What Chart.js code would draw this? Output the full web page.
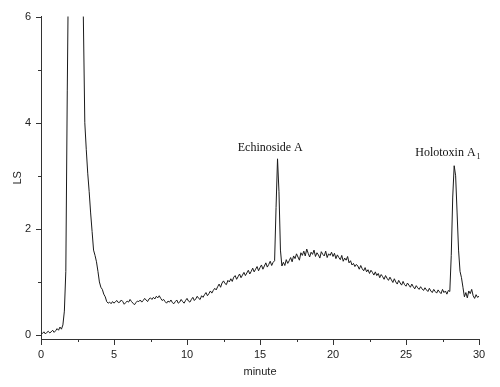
<!DOCTYPE html>
<html>
<head>
<meta charset="utf-8">
<script src="https://cdn.jsdelivr.net/npm/chart.js@4"></script>
<style>
  body { margin: 0; background: #fff; }
  #wrap { width: 500px; height: 387px; }
</style>
</head>
<body>
<div id="wrap"><canvas id="lsChart"></canvas></div>
<script>
// temps de rétention (minute)
let minutes = [
  0.0,0.1,0.2,0.3,0.4,0.5,0.6,0.7,0.8,0.9,
  1.0,1.1,1.2,1.3,1.4,1.5,1.6,1.7,1.8,1.9,
  2.0,2.1,2.2,2.3,2.4,2.5,2.6,2.7,2.8,2.9,
  3.0,3.1,3.2,3.3,3.4,3.5,3.6,3.7,3.8,3.9,
  4.0,4.1,4.2,4.3,4.4,4.5,4.6,4.7,4.8,4.9,
  5.0,5.1,5.2,5.3,5.4,5.5,5.6,5.7,5.8,5.9,
  6.0,6.1,6.2,6.3,6.4,6.5,6.6,6.7,6.8,6.9,
  7.0,7.1,7.2,7.3,7.4,7.5,7.6,7.7,7.8,7.9,
  8.0,8.1,8.2,8.3,8.4,8.5,8.6,8.7,8.8,8.9,
  9.0,9.1,9.2,9.3,9.4,9.5,9.6,9.7,9.8,9.9,
  10.0,10.1,10.2,10.3,10.4,10.5,10.6,10.7,10.8,10.9,
  11.0,11.1,11.2,11.3,11.4,11.5,11.6,11.7,11.8,11.9,
  12.0,12.1,12.2,12.3,12.4,12.5,12.6,12.7,12.8,12.9,
  13.0,13.1,13.2,13.3,13.4,13.5,13.6,13.7,13.8,13.9,
  14.0,14.1,14.2,14.3,14.4,14.5,14.6,14.7,14.8,14.9,
  15.0,15.1,15.2,15.3,15.4,15.5,15.6,15.7,15.8,15.9,
  16.0,16.1,16.2,16.3,16.4,16.5,16.6,16.7,16.8,16.9,
  17.0,17.1,17.2,17.3,17.4,17.5,17.6,17.7,17.8,17.9,
  18.0,18.1,18.2,18.3,18.4,18.5,18.6,18.7,18.8,18.9,
  19.0,19.1,19.2,19.3,19.4,19.5,19.6,19.7,19.8,19.9,
  20.0,20.1,20.2,20.3,20.4,20.5,20.6,20.7,20.8,20.9,
  21.0,21.1,21.2,21.3,21.4,21.5,21.6,21.7,21.8,21.9,
  22.0,22.1,22.2,22.3,22.4,22.5,22.6,22.7,22.8,22.9,
  23.0,23.1,23.2,23.3,23.4,23.5,23.6,23.7,23.8,23.9,
  24.0,24.1,24.2,24.3,24.4,24.5,24.6,24.7,24.8,24.9,
  25.0,25.1,25.2,25.3,25.4,25.5,25.6,25.7,25.8,25.9,
  26.0,26.1,26.2,26.3,26.4,26.5,26.6,26.7,26.8,26.9,
  27.0,27.1,27.2,27.3,27.4,27.5,27.6,27.7,27.8,27.9,
  28.0,28.1,28.2,28.3,28.4,28.5,28.6,28.7,28.8,28.9,
  29.0,29.1,29.2,29.3,29.4,29.5,29.6,29.7,29.8,29.9,
  30.0
];

// signal LS (le grand pic du début dépasse 6, il est coupé)
let signal = [
  0.04,0.03,0.06,0.02,0.05,0.07,0.04,0.06,0.09,0.05,
  0.08,0.12,0.09,0.15,0.11,0.19,0.45,1.20,4.60,7.50,
  10.0,12.0,13.0,13.0,12.5,11.0,9.5,8.0,6.8,6.0,
  4.00,3.50,3.05,2.70,2.30,1.95,1.60,1.50,1.38,1.20,
  1.00,0.90,0.86,0.77,0.72,0.63,0.60,0.62,0.59,0.63,
  0.60,0.63,0.65,0.61,0.62,0.66,0.63,0.58,0.61,0.64,
  0.62,0.67,0.63,0.60,0.57,0.61,0.64,0.63,0.66,0.62,
  0.65,0.69,0.66,0.63,0.68,0.70,0.67,0.71,0.68,0.73,
  0.70,0.74,0.69,0.65,0.67,0.63,0.60,0.64,0.62,0.66,
  0.61,0.59,0.63,0.66,0.60,0.62,0.67,0.63,0.60,0.65,
  0.69,0.64,0.62,0.67,0.71,0.65,0.68,0.73,0.69,0.67,
  0.74,0.71,0.76,0.80,0.74,0.78,0.83,0.79,0.84,0.88,
  0.85,0.91,0.96,0.90,0.98,1.02,0.97,0.95,1.03,1.00,
  1.06,1.01,1.09,1.12,1.05,1.10,1.15,1.08,1.13,1.18,
  1.12,1.17,1.22,1.15,1.20,1.26,1.19,1.24,1.29,1.21,
  1.27,1.32,1.24,1.30,1.36,1.28,1.33,1.39,1.31,1.37,
  1.40,2.40,3.32,2.70,1.60,1.30,1.37,1.31,1.42,1.35,
  1.40,1.46,1.38,1.49,1.44,1.53,1.47,1.41,1.55,1.50,
  1.58,1.49,1.62,1.54,1.47,1.56,1.52,1.60,1.48,1.55,
  1.51,1.45,1.57,1.52,1.49,1.58,1.46,1.53,1.50,1.56,
  1.48,1.54,1.44,1.51,1.46,1.42,1.50,1.39,1.45,1.41,
  1.48,1.36,1.40,1.32,1.35,1.29,1.33,1.30,1.24,1.31,
  1.25,1.21,1.27,1.19,1.23,1.16,1.22,1.18,1.13,1.19,
  1.12,1.16,1.08,1.14,1.10,1.05,1.12,1.07,1.03,1.09,
  1.04,0.99,1.06,1.00,0.96,1.03,0.98,0.94,1.01,0.95,
  0.92,0.98,0.94,0.90,0.96,0.91,0.87,0.93,0.89,0.86,
  0.91,0.87,0.84,0.89,0.85,0.82,0.88,0.83,0.80,0.86,
  0.82,0.79,0.85,0.81,0.78,0.86,0.80,0.83,0.77,0.84,
  0.82,1.50,2.60,3.19,3.00,2.30,1.60,1.20,1.08,0.90,
  0.72,0.80,0.70,0.83,0.78,0.86,0.74,0.69,0.76,0.71,
  0.73
];

let xMajor = [0, 5, 10, 15, 20, 25, 30];
let xMinor = [2.5, 7.5, 12.5, 17.5, 22.5, 27.5];
let yMajor = [0, 2, 4, 6];
let yMinor = [1, 3, 5];

// étiquettes des pics : texte, indice, position (minute, LS)
let peakNames = ['Echinoside A', 'Holotoxin A'];
let peakSubs = ['', '1'];
let peakX = [15.7, 27.7];
let peakY = [3.53, 3.43];

const axisColor = '#333';
const sansFont = "'Liberation Sans', Arial, sans-serif";
const serifFont = "'Liberation Serif', 'Times New Roman', serif";

// dessine les graduations (majeures et mineures) vers l'extérieur
const tickPlugin = {
  id: 'ticksOut',
  afterDraw(chart) {
    let ctx = chart.ctx;
    let xs = chart.scales.x, ys = chart.scales.y;
    let area = chart.chartArea;
    ctx.save();
    ctx.strokeStyle = axisColor;
    ctx.lineWidth = 1;
    ctx.beginPath();
    xMajor.forEach(v => {
      let px = Math.round(xs.getPixelForValue(v)) + 0.5;
      ctx.moveTo(px, area.bottom); ctx.lineTo(px, area.bottom + 6);
    });
    xMinor.forEach(v => {
      let px = Math.round(xs.getPixelForValue(v)) + 0.5;
      ctx.moveTo(px, area.bottom); ctx.lineTo(px, area.bottom + 3);
    });
    yMajor.forEach(v => {
      let py = Math.round(ys.getPixelForValue(v)) + 0.5;
      ctx.moveTo(area.left, py); ctx.lineTo(area.left - 5, py);
    });
    yMinor.forEach(v => {
      let py = Math.round(ys.getPixelForValue(v)) + 0.5;
      ctx.moveTo(area.left, py); ctx.lineTo(area.left - 3, py);
    });
    ctx.stroke();
    ctx.restore();
  }
};

// noms des pics
const peakLabelPlugin = {
  id: 'peakLabels',
  afterDraw(chart) {
    let ctx = chart.ctx;
    let xs = chart.scales.x, ys = chart.scales.y;
    ctx.save();
    ctx.fillStyle = '#111';
    ctx.textBaseline = 'middle';
    peakNames.forEach((name, i) => {
      let px = xs.getPixelForValue(peakX[i]);
      let py = ys.getPixelForValue(peakY[i]);
      ctx.font = '12px ' + serifFont;
      ctx.textAlign = 'center';
      ctx.fillText(name, px, py);
      if (peakSubs[i]) {
        let w = ctx.measureText(name).width;
        ctx.font = '8px ' + serifFont;
        ctx.textAlign = 'left';
        ctx.fillText(peakSubs[i], px + w / 2 + 1, py + 4);
      }
    });
    ctx.restore();
  }
};

let points = minutes.map((m, i) => ({ x: m, y: signal[i] }));

let ctx = document.getElementById('lsChart').getContext('2d');
let chart = new Chart(ctx, {
  type: 'line',
  data: {
    datasets: [{
      label: 'LS',
      data: points,
      borderColor: '#1a1a1a',
      borderWidth: 1,
      pointRadius: 0,
      tension: 0,
      fill: false
    }]
  },
  options: {
    responsive: true,
    maintainAspectRatio: false,
    animation: false,
    layout: { padding: { left: 0, top: 15, right: 21, bottom: 0 } },
    plugins: {
      legend: { display: false },
      tooltip: { enabled: false }
    },
    scales: {
      x: {
        type: 'linear',
        min: 0,
        max: 30,
        afterBuildTicks: scale => { scale.ticks = xMajor.map(v => ({ value: v })); },
        afterFit: scale => { scale.height = 48; },
        grid: { display: false, drawTicks: false },
        border: { display: true, color: axisColor, width: 1 },
        ticks: {
          padding: 9,
          color: '#222',
          font: { family: sansFont, size: 11 }
        },
        title: {
          display: true,
          text: 'minute',
          color: '#222',
          font: { family: sansFont, size: 11 },
          padding: { top: 0, bottom: 8 }
        }
      },
      y: {
        type: 'linear',
        min: -0.075,
        max: 6,
        afterBuildTicks: scale => { scale.ticks = yMajor.map(v => ({ value: v })); },
        afterFit: scale => { scale.width = 41; },
        grid: { display: false, drawTicks: false },
        border: { display: true, color: axisColor, width: 1 },
        ticks: {
          padding: 10,
          color: '#222',
          font: { family: sansFont, size: 11 }
        },
        title: {
          display: true,
          text: 'LS',
          color: '#222',
          font: { family: sansFont, size: 11 },
          padding: { top: 11, bottom: 0 }
        }
      }
    }
  },
  plugins: [tickPlugin, peakLabelPlugin]
});
</script>
</body>
</html>
